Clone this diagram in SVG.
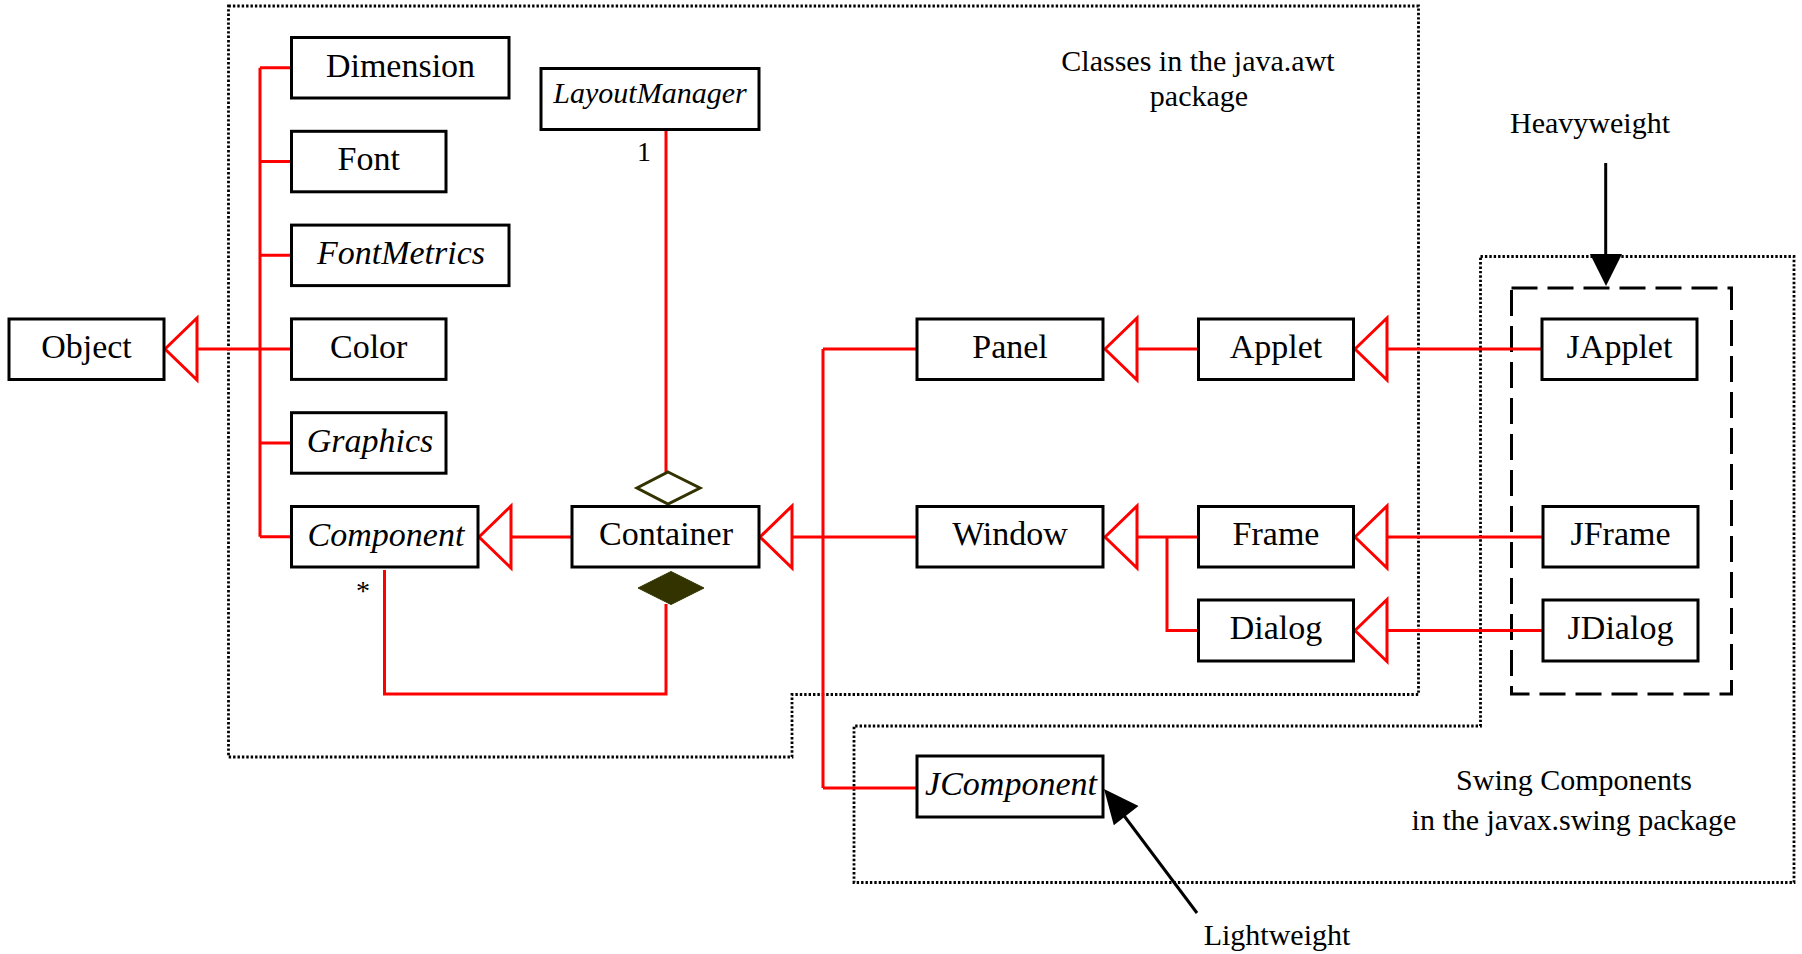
<svg xmlns="http://www.w3.org/2000/svg" width="1802" height="954" viewBox="0 0 1802 954">
  <style>
    .box { fill: #ffffff; stroke: #000000; stroke-width: 3; }
    .lbl { font-family: "Liberation Serif", "Times New Roman", serif; font-size: 34px; fill: #000000; text-anchor: middle; }
    .it { font-style: italic; }
    .note { font-family: "Liberation Serif", "Times New Roman", serif; font-size: 30px; fill: #000000; text-anchor: middle; }
    .link { fill: none; stroke: #ff0000; stroke-width: 3; }
    .gen { fill: #ffffff; stroke: #ff0000; stroke-width: 3; stroke-linejoin: miter; }
    .pkg { fill: none; stroke: #000000; stroke-width: 2.8; stroke-dasharray: 2.4 2; }
    .group { fill: none; stroke: #000000; stroke-width: 3; stroke-dasharray: 26 10; }
    .ptr { stroke: #000000; stroke-width: 3; fill: none; }
  </style>

  <!-- package outlines -->
  <g id="packages">
    <path class="pkg" d="M228.5,6 H1418.5 V694.5 H792 V757 H228.5 Z"/>
    <path class="pkg" d="M1480.5,256.5 H1794 V882.5 H854 V726 H1480.5 Z"/>
    <rect class="group" x="1511.5" y="288" width="220" height="406"/>
  </g>

  <!-- relationships -->
  <g id="connectors">
    <!-- awt helper classes under Object -->
    <path class="link" d="M197,349 H291.5"/>
    <path class="link" d="M260,67.75 V536.75"/>
    <path class="link" d="M260,67.75 H291.5 M260,161.55 H291.5 M260,255.35 H291.5 M260,442.95 H291.5 M260,536.75 H291.5"/>
    <!-- Container -> Component -->
    <path class="link" d="M511,537 H572"/>
    <!-- LayoutManager aggregation -->
    <path class="link" d="M666,130 V472"/>
    <!-- Component composition -->
    <path class="link" d="M666,604 V694 H384.5 V570"/>
    <!-- Container subclasses -->
    <path class="link" d="M792,537 H917"/>
    <path class="link" d="M823,349 V788 M823,349 H917 M823,788 H917"/>
    <!-- Panel / Window subclasses -->
    <path class="link" d="M1137,349 H1198.5"/>
    <path class="link" d="M1137,537 H1198.5 M1167,537 V630.5 H1198.5"/>
    <!-- Swing top-level containers -->
    <path class="link" d="M1387,349 H1542"/>
    <path class="link" d="M1387,537 H1543"/>
    <path class="link" d="M1387,630.5 H1543"/>

    <!-- generalization heads -->
    <polygon class="gen" points="165,349 197,318 197,380"/>
    <polygon class="gen" points="479,537 511,506 511,568"/>
    <polygon class="gen" points="760,537 792,506 792,568"/>
    <polygon class="gen" points="1105,349 1137,318 1137,380"/>
    <polygon class="gen" points="1105,537 1137,506 1137,568"/>
    <polygon class="gen" points="1355,349 1387,318 1387,380"/>
    <polygon class="gen" points="1355,537 1387,506 1387,568"/>
    <polygon class="gen" points="1355,630.5 1387,599.5 1387,661.5"/>

    <!-- aggregation / composition diamonds -->
    <polygon points="668,472 700,488 668,504 637,488" fill="#ffffff" stroke="#333300" stroke-width="3"/>
    <polygon points="671,571.5 704,588 671,604.5 638,588" fill="#333300" stroke="#333300" stroke-width="1"/>

    <!-- multiplicities -->
    <text class="note" x="644" y="161" style="font-size:28px">1</text>
    <text class="note" x="363" y="600" style="font-size:28px">*</text>

    <!-- Heavyweight pointer -->
    <line class="ptr" x1="1605.7" y1="163" x2="1605.7" y2="258"/>
    <polygon points="1590,254 1622,254 1606,286" fill="#000000"/>
    <!-- Lightweight pointer -->
    <line class="ptr" x1="1197" y1="913" x2="1122" y2="813"/>
    <polygon points="1104,789 1138.5,806 1113.8,825.3" fill="#000000"/>
  </g>

  <!-- classes -->
  <g id="node-object">
    <rect class="box" x="9" y="319" width="155" height="60.5"/>
    <text class="lbl" x="86.5" y="358">Object</text>
  </g>
  <g id="node-dimension">
    <rect class="box" x="291.5" y="37.5" width="217.5" height="60.5"/>
    <text class="lbl" x="400.5" y="76.5">Dimension</text>
  </g>
  <g id="node-font">
    <rect class="box" x="291.5" y="131.3" width="154.5" height="60.5"/>
    <text class="lbl" x="368.7" y="170.3">Font</text>
  </g>
  <g id="node-fontmetrics">
    <rect class="box" x="291.5" y="225.1" width="217.5" height="60.5"/>
    <text class="lbl it" x="401" y="264">FontMetrics</text>
  </g>
  <g id="node-color">
    <rect class="box" x="291.5" y="318.9" width="154.5" height="60.5"/>
    <text class="lbl" x="368.7" y="358">Color</text>
  </g>
  <g id="node-graphics">
    <rect class="box" x="291.5" y="412.7" width="154.5" height="60.5"/>
    <text class="lbl it" x="370" y="451.7">Graphics</text>
  </g>
  <g id="node-component">
    <rect class="box" x="291.5" y="506.5" width="186.5" height="60.5"/>
    <text class="lbl it" x="386" y="545.5">Component</text>
  </g>
  <g id="node-layoutmanager">
    <rect class="box" x="541" y="68.5" width="218" height="61"/>
    <text class="lbl it" x="650" y="102.5" style="font-size:30px">LayoutManager</text>
  </g>
  <g id="node-container">
    <rect class="box" x="572" y="506.5" width="187" height="60.5"/>
    <text class="lbl" x="666" y="545">Container</text>
  </g>
  <g id="node-panel">
    <rect class="box" x="917" y="319" width="186" height="60.5"/>
    <text class="lbl" x="1010" y="358">Panel</text>
  </g>
  <g id="node-window">
    <rect class="box" x="917" y="506.5" width="186" height="60.5"/>
    <text class="lbl" x="1010" y="545">Window</text>
  </g>
  <g id="node-jcomponent">
    <rect class="box" x="917" y="756" width="186" height="61"/>
    <text class="lbl it" x="1011" y="795">JComponent</text>
  </g>
  <g id="node-applet">
    <rect class="box" x="1198.5" y="319" width="155" height="60.5"/>
    <text class="lbl" x="1276" y="358">Applet</text>
  </g>
  <g id="node-frame">
    <rect class="box" x="1198.5" y="506.5" width="155" height="60.5"/>
    <text class="lbl" x="1276" y="545">Frame</text>
  </g>
  <g id="node-dialog">
    <rect class="box" x="1198.5" y="600" width="155" height="61"/>
    <text class="lbl" x="1276" y="639">Dialog</text>
  </g>
  <g id="node-japplet">
    <rect class="box" x="1542" y="319" width="155" height="60.5"/>
    <text class="lbl" x="1619.5" y="358">JApplet</text>
  </g>
  <g id="node-jframe">
    <rect class="box" x="1543" y="506.5" width="155" height="60.5"/>
    <text class="lbl" x="1620.5" y="545">JFrame</text>
  </g>
  <g id="node-jdialog">
    <rect class="box" x="1543" y="600" width="155" height="61"/>
    <text class="lbl" x="1620.5" y="639">JDialog</text>
  </g>

  <!-- captions -->
  <g id="captions">
    <text class="note" x="1198" y="71">Classes in the java.awt</text>
    <text class="note" x="1199" y="106">package</text>
    <text class="note" x="1590" y="133">Heavyweight</text>
    <text class="note" x="1574" y="790">Swing Components</text>
    <text class="note" x="1574" y="830">in the javax.swing package</text>
    <text class="note" x="1277" y="945">Lightweight</text>
  </g>
</svg>
